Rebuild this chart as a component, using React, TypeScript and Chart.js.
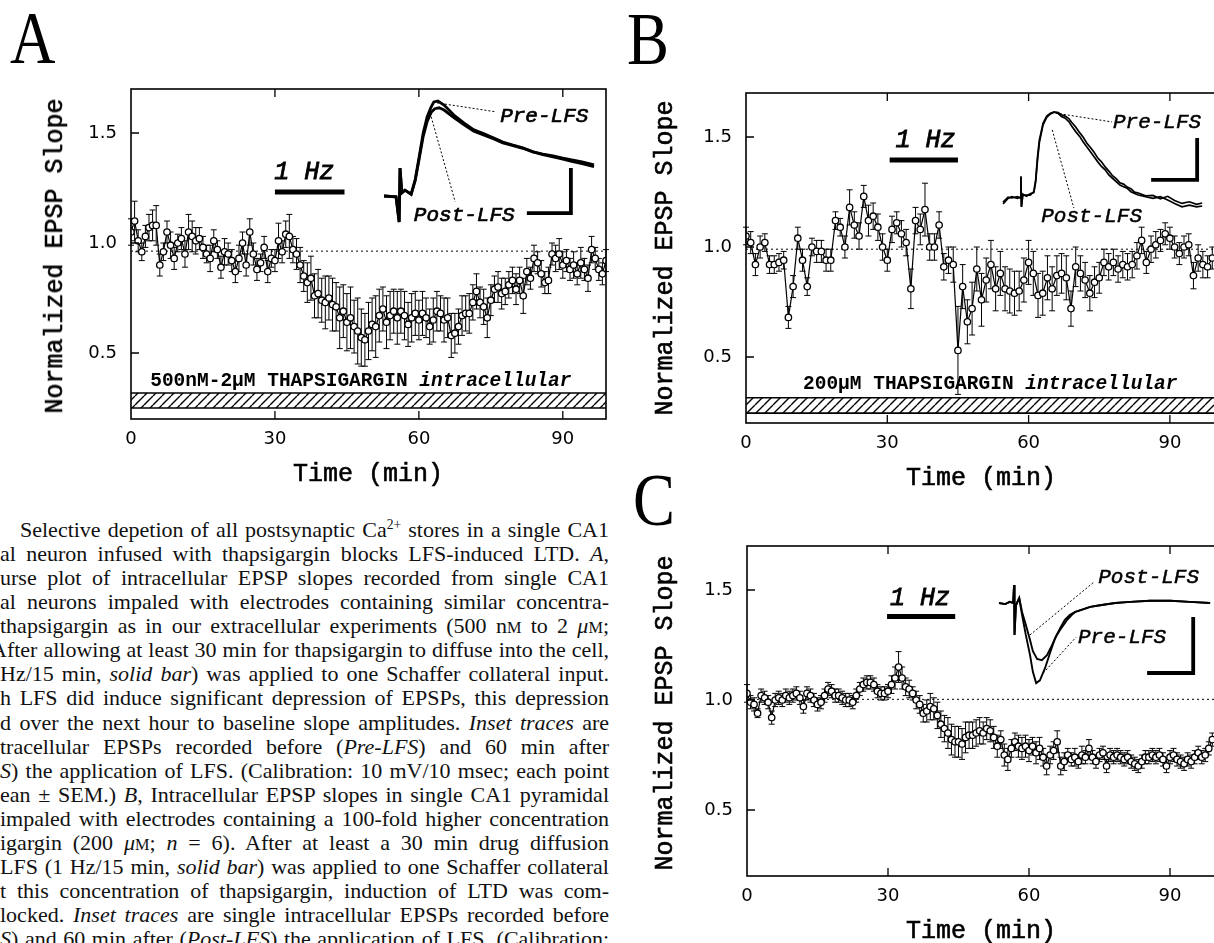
import React, { useEffect, useRef } from "react";
import { Chart, registerables } from "chart.js";

Chart.register(...registerables);

// ---------- axis ticks ----------
const X_TICKS = [0, 30, 60, 90];
const Y_TICKS = [0.5, 1.0, 1.5];

// ---------- Panel A: 500nM-2uM thapsigargin (sampling every 0.75 min) ----------
const A_STEP_MIN = 0.75;
const A_SLOPE = [
  1.05, 1.10, 1.01, 0.96, 1.03, 1.07, 1.08, 1.08, 0.90, 0.96,
  1.05, 0.99, 0.93, 1.00, 1.02, 0.95, 1.05, 1.03, 1.01, 1.02,
  0.98, 0.95, 0.93, 1.01, 0.97, 0.89, 0.96, 0.95, 0.92, 0.87,
  0.93, 1.00, 0.90, 1.05, 0.95, 0.88, 0.91, 0.98, 0.87, 0.93,
  0.92, 1.01, 0.96, 1.04, 1.03, 0.97, 0.95, 0.90, 0.85, 0.82,
  0.84, 0.76, 0.77, 0.74, 0.73, 0.75, 0.72, 0.71, 0.66, 0.69,
  0.64, 0.66, 0.62, 0.60, 0.57, 0.56, 0.60, 0.63, 0.62, 0.67,
  0.70, 0.64, 0.67, 0.69, 0.66, 0.69, 0.67, 0.63, 0.66, 0.68,
  0.65, 0.68, 0.66, 0.62, 0.65, 0.69, 0.68, 0.65, 0.66, 0.58,
  0.59, 0.62, 0.67, 0.68, 0.68, 0.73, 0.78, 0.73, 0.71, 0.66,
  0.74, 0.79, 0.80, 0.77, 0.78, 0.81, 0.83, 0.79, 0.83, 0.76,
  0.87, 0.84, 0.93, 0.91, 0.86, 0.82, 0.83, 0.95, 0.93, 0.95,
  0.90, 0.92, 0.88, 0.90, 0.86, 0.91, 0.88, 0.84, 0.97, 0.93,
  0.88, 0.86, 0.92,
];
const A_SEM = [
  0.06, 0.09, 0.05, 0.04, 0.05, 0.06, 0.07, 0.09, 0.05, 0.04,
  0.05, 0.06, 0.05, 0.04, 0.05, 0.06, 0.08, 0.07, 0.06, 0.05,
  0.05, 0.04, 0.06, 0.05, 0.04, 0.05, 0.06, 0.05, 0.05, 0.05,
  0.06, 0.05, 0.05, 0.06, 0.05, 0.05, 0.04, 0.05, 0.05, 0.04,
  0.05, 0.08, 0.05, 0.06, 0.10, 0.06, 0.07, 0.08, 0.07, 0.09,
  0.10, 0.10, 0.11, 0.10, 0.12, 0.10, 0.12, 0.11, 0.14, 0.12,
  0.13, 0.14, 0.12, 0.15, 0.13, 0.12, 0.13, 0.12, 0.14, 0.12,
  0.10, 0.12, 0.11, 0.10, 0.12, 0.10, 0.11, 0.10, 0.11, 0.10,
  0.09, 0.10, 0.09, 0.08, 0.10, 0.09, 0.08, 0.10, 0.09, 0.10,
  0.09, 0.08, 0.09, 0.08, 0.09, 0.08, 0.08, 0.07, 0.08, 0.09,
  0.07, 0.06, 0.07, 0.07, 0.06, 0.06, 0.06, 0.07, 0.06, 0.08,
  0.06, 0.05, 0.06, 0.05, 0.06, 0.05, 0.06, 0.05, 0.06, 0.07,
  0.06, 0.05, 0.05, 0.06, 0.05, 0.07, 0.05, 0.06, 0.06, 0.05,
  0.05, 0.05, 0.05,
];

// ---------- Panel B: 200uM thapsigargin (sampling every 1 min) ----------
const B_STEP_MIN = 1;
const B_SLOPE = [
  1.05, 1.02, 0.92, 1.00, 1.02, 0.92, 0.92, 0.93, 0.94, 0.68,
  0.82, 1.04, 0.94, 0.82, 1.00, 0.98, 0.98, 0.94, 0.94, 1.12,
  1.09, 1.00, 1.18, 1.10, 1.05, 1.23, 1.12, 1.14, 1.09, 1.00,
  0.94, 1.08, 1.11, 1.06, 1.02, 0.81, 1.12, 1.08, 1.17, 1.00,
  1.00, 1.10, 0.91, 0.94, 0.92, 0.53, 0.82, 0.66, 0.72, 0.90,
  0.76, 0.85, 0.92, 0.81, 0.88, 0.81, 0.80, 0.79, 0.80, 0.85,
  0.93, 0.88, 0.78, 0.79, 0.86, 0.81, 0.87, 0.88, 0.86, 0.72,
  0.91, 0.88, 0.85, 0.79, 0.84, 0.86, 0.93, 0.91, 0.93, 0.90,
  0.92, 0.91, 0.92, 0.96, 1.03, 0.93, 0.99, 1.01, 1.03, 1.06,
  1.04, 1.00, 0.97, 1.00, 1.01, 0.87, 0.95, 0.92, 0.91, 0.95,
];
const B_SEM = [
  0.04, 0.05, 0.05, 0.05, 0.04, 0.04, 0.04, 0.04, 0.04, 0.05,
  0.05, 0.05, 0.05, 0.04, 0.04, 0.05, 0.05, 0.05, 0.05, 0.04,
  0.04, 0.05, 0.08, 0.06, 0.06, 0.05, 0.07, 0.06, 0.06, 0.06,
  0.05, 0.06, 0.05, 0.06, 0.06, 0.09, 0.06, 0.07, 0.12, 0.06,
  0.06, 0.06, 0.06, 0.06, 0.08, 0.20, 0.10, 0.10, 0.12, 0.10,
  0.12, 0.10, 0.11, 0.10, 0.10, 0.10, 0.10, 0.10, 0.09, 0.10,
  0.10, 0.10, 0.10, 0.10, 0.10, 0.10, 0.09, 0.09, 0.10, 0.08,
  0.09, 0.08, 0.08, 0.08, 0.07, 0.07, 0.06, 0.06, 0.06, 0.06,
  0.06, 0.06, 0.06, 0.06, 0.06, 0.05, 0.06, 0.06, 0.05, 0.05,
  0.05, 0.05, 0.05, 0.05, 0.05, 0.06, 0.06, 0.06, 0.05, 0.05,
];

// ---------- Panel C: control (sampling every 0.75 min) ----------
const C_STEP_MIN = 0.75;
const C_SLOPE = [
  1.03, 0.99, 0.98, 0.94, 1.02, 1.01, 0.99, 0.92, 1.00, 1.01,
  1.00, 1.02, 1.01, 1.02, 1.03, 1.01, 0.97, 1.03, 1.02, 1.00,
  0.98, 0.99, 1.02, 1.05, 1.04, 1.02, 1.02, 1.01, 1.00, 1.00,
  0.99, 1.02, 1.05, 1.07, 1.08, 1.08, 1.07, 1.04, 1.03, 1.03,
  1.04, 1.07, 1.10, 1.15, 1.10, 1.06, 1.05, 1.03, 1.00, 0.98,
  0.94, 0.95, 0.97, 0.96, 0.93, 0.89, 0.87, 0.85, 0.82, 0.81,
  0.81, 0.80, 0.83, 0.84, 0.84, 0.85, 0.86, 0.85, 0.87, 0.86,
  0.83, 0.79, 0.82, 0.75, 0.73, 0.78, 0.81, 0.79, 0.78, 0.79,
  0.77, 0.79, 0.76, 0.78, 0.74, 0.70, 0.75, 0.77, 0.81, 0.70,
  0.72, 0.75, 0.73, 0.74, 0.72, 0.75, 0.74, 0.78, 0.74, 0.72,
  0.75, 0.76, 0.70, 0.75, 0.74, 0.75, 0.74, 0.73, 0.74, 0.72,
  0.71, 0.70, 0.72, 0.74, 0.74, 0.75, 0.74, 0.75, 0.73, 0.70,
  0.74, 0.75, 0.73, 0.72, 0.71, 0.73, 0.72, 0.74, 0.76, 0.74,
  0.75, 0.78, 0.82,
];
const C_SEM = [
  0.04, 0.03, 0.03, 0.02, 0.03, 0.03, 0.03, 0.03, 0.03, 0.03,
  0.03, 0.03, 0.03, 0.03, 0.03, 0.03, 0.03, 0.03, 0.03, 0.03,
  0.03, 0.03, 0.03, 0.03, 0.03, 0.03, 0.03, 0.03, 0.03, 0.03,
  0.03, 0.03, 0.03, 0.03, 0.03, 0.03, 0.03, 0.03, 0.03, 0.03,
  0.03, 0.04, 0.05, 0.07, 0.05, 0.04, 0.04, 0.03, 0.04, 0.04,
  0.04, 0.05, 0.06, 0.05, 0.06, 0.06, 0.06, 0.07, 0.07, 0.07,
  0.07, 0.07, 0.07, 0.06, 0.06, 0.06, 0.06, 0.05, 0.05, 0.05,
  0.05, 0.05, 0.04, 0.05, 0.05, 0.04, 0.04, 0.05, 0.05, 0.05,
  0.05, 0.04, 0.05, 0.05, 0.04, 0.04, 0.04, 0.04, 0.05, 0.04,
  0.04, 0.03, 0.03, 0.04, 0.03, 0.04, 0.03, 0.04, 0.03, 0.03,
  0.03, 0.03, 0.03, 0.03, 0.03, 0.03, 0.03, 0.03, 0.03, 0.03,
  0.03, 0.03, 0.03, 0.03, 0.03, 0.03, 0.03, 0.03, 0.03, 0.03,
  0.03, 0.03, 0.03, 0.03, 0.03, 0.03, 0.03, 0.03, 0.03, 0.03,
  0.03, 0.03, 0.03,
];

// ---------- inset traces: [msec, mV] ----------
type Pt = [number, number];
const INSET_A_PRE: Pt[] = [
  [0, 0], [2.7, -0.2], [3.4, -5.8], [3.6, 6.2], [4.0, 0.7], [4.7, 1.3], [6.1, 0.4], [7.0, 3.6],
  [7.9, 8.7], [8.8, 14.0], [9.7, 17.6], [10.6, 19.8], [11.2, 20.9], [12.1, 21.1], [13.5, 20.2],
  [15.7, 18.0], [18.0, 16.2], [20.2, 14.7], [22.5, 13.8], [24.7, 12.9], [26.7, 12.0], [29.0, 11.3],
  [31.2, 10.7], [33.5, 9.8], [35.7, 9.3], [38.0, 8.9], [40.2, 8.4], [42.2, 8.0], [44.5, 7.6], [47.2, 6.9],
];
const INSET_A_POST: Pt[] = [
  [0, 0], [2.7, -0.2], [3.4, -5.8], [3.6, 6.2], [4.0, 0.7], [4.7, 1.3], [6.1, 0.4], [7.0, 3.4],
  [7.9, 8.2], [8.8, 13.2], [9.7, 16.6], [10.6, 18.6], [11.4, 19.4], [12.4, 19.6], [13.5, 19.1],
  [15.7, 17.4], [18.0, 15.8], [20.2, 14.4], [22.5, 13.5], [24.7, 12.7], [26.7, 11.8], [29.0, 11.2],
  [31.2, 10.6], [33.5, 9.8], [35.7, 9.2], [38.0, 8.7], [40.2, 8.2], [42.2, 7.7], [44.5, 7.2], [47.2, 6.5],
];
const INSET_A_CAL: Pt[] = [[32.1, -3.8], [42.0, -3.8], [42.0, 6.2]];
const INSET_A_LEAD_PRE: Pt[] = [[11.9, 20.7], [25.2, 18.7]];
const INSET_A_LEAD_POST: Pt[] = [[10.6, 17.6], [16.0, -1.3]];

const INSET_B_PRE: Pt[] = [
  [0, -1.4], [1.1, -0.1], [1.9, 0.3], [3.1, -0.1], [3.7, 0.2], [3.9, 5.1], [4.0, -2.1], [4.3, 0.7],
  [5.1, 0.7], [5.9, 0.7], [6.7, 1.5], [7.1, 4.3], [7.5, 9.8], [7.9, 13.8], [8.7, 17.8], [9.5, 19.5],
  [10.3, 20.2], [11.1, 20.5], [11.9, 20.2], [12.7, 19.4], [13.5, 19.0], [14.3, 18.2], [15.0, 17.0],
  [15.8, 15.8], [16.7, 14.6], [17.4, 13.4], [18.2, 12.2], [19.0, 11.0], [19.8, 9.8], [20.6, 8.6],
  [21.4, 7.5], [22.2, 6.7], [23.0, 5.5], [23.8, 4.7], [24.6, 3.9], [25.4, 3.1], [26.2, 2.7],
  [27.0, 2.3], [27.8, 1.5], [28.6, 1.1], [29.4, 0.7], [31.0, 0.3], [32.6, -0.1], [34.2, 0.3],
  [35.8, -0.5], [37.3, -1.3], [38.9, -2.1], [40.5, -1.7], [42.1, -2.1], [43.3, -1.9],
];
const INSET_B_POST: Pt[] = [
  [0, -1.0], [1.1, 0.2], [1.9, 0.0], [3.1, 0.3], [3.7, 0.0], [3.9, 5.1], [4.0, -2.1], [4.3, 0.9],
  [5.1, 0.4], [5.9, 1.0], [6.7, 1.3], [7.1, 3.8], [7.5, 9.0], [7.9, 13.2], [8.7, 17.4], [9.5, 19.2],
  [10.3, 20.0], [11.1, 20.4], [11.9, 20.4], [12.7, 19.8], [13.5, 19.5], [14.3, 18.9], [15.0, 17.9],
  [15.8, 16.9], [16.7, 15.5], [17.4, 14.5], [18.2, 13.1], [19.0, 12.0], [19.8, 10.9], [20.6, 9.5],
  [21.4, 8.6], [22.2, 7.4], [23.0, 6.4], [23.8, 5.3], [24.6, 4.6], [25.4, 3.6], [26.2, 3.3],
  [27.0, 2.6], [27.8, 2.2], [28.6, 1.4], [29.4, 1.2], [31.0, 0.5], [32.6, 0.6], [34.2, -0.2],
  [35.8, 0.4], [37.3, -0.6], [38.9, -1.3], [40.5, -0.9], [42.1, -1.5], [43.3, -1.2],
];
const INSET_B_CAL: Pt[] = [[32.2, 4.3], [42.2, 4.3], [42.2, 14.3]];
const INSET_B_LEAD_PRE: Pt[] = [[11.5, 20.2], [23.7, 18.1]];
const INSET_B_LEAD_POST: Pt[] = [[10.7, 16.2], [15.4, -2.4]];

const INSET_C_PRE: Pt[] = [
  [0, 0], [1.3, -0.2], [2.3, 0.2], [3.0, 0], [3.2, 3.2], [3.3, -5.7], [3.6, -0.4], [4.3, 0.9],
  [4.9, -2.1], [5.7, -5.7], [6.6, -9.3], [7.2, -12.3], [7.9, -14.3], [8.7, -13.8], [9.8, -11.6],
  [10.9, -8.8], [11.9, -6.3], [13.0, -4.5], [14.0, -3.0], [15.1, -2.1], [16.2, -1.6], [17.2, -1.3],
  [19.4, -0.7], [21.5, -0.4], [24.7, 0], [27.9, 0.2], [32.1, 0.4], [36.4, 0.4], [40.6, 0.2], [44.9, 0],
];
const INSET_C_POST: Pt[] = [
  [0, 0], [1.3, -0.2], [2.3, 0.2], [3.0, 0], [3.2, 3.2], [3.3, -5.7], [3.6, -0.4], [4.3, 0.9],
  [4.9, -1.6], [5.7, -3.9], [6.6, -6.6], [7.2, -8.6], [8.1, -10.0], [9.1, -10.2], [10.2, -9.3],
  [11.3, -7.5], [12.3, -5.7], [13.4, -4.3], [14.5, -3.0], [15.5, -2.1], [16.2, -1.6], [17.2, -1.3],
  [19.4, -0.7], [21.5, -0.4], [24.7, 0], [27.9, 0.2], [32.1, 0.4], [36.4, 0.4], [40.6, 0.2], [44.9, 0],
];
const INSET_C_CAL: Pt[] = [[31.5, -12.5], [41.3, -12.5], [41.3, -2.5]];
const INSET_C_LEAD_POST: Pt[] = [[6.6, -5.7], [20.2, 3.75]];
const INSET_C_LEAD_PRE: Pt[] = [[9.4, -12.5], [16.4, -6.1]];

// ---------- helpers ----------
const MONO = '"Liberation Mono", "DejaVu Sans Mono", monospace';
const toXY = (arr: Pt[]) => arr.map(([x, y]) => ({ x, y }));
const seriesXY = (vals: number[], step: number) => vals.map((y, i) => ({ x: i * step, y }));

interface TextItem {
  x: number;
  y: number;
  align: "left" | "center";
  stroke?: number;
  parts: { text: string; font: string }[];
}

function textPlugin(items: TextItem[]) {
  return {
    id: "texts",
    afterDatasetsDraw(chart: any) {
      const { ctx } = chart;
      const xs = chart.scales.x;
      const ys = chart.scales.y;
      ctx.save();
      ctx.fillStyle = "#000";
      ctx.strokeStyle = "#000";
      ctx.textBaseline = "middle";
      ctx.textAlign = "left";
      items.forEach((it) => {
        let total = 0;
        it.parts.forEach((p) => {
          ctx.font = p.font;
          total += ctx.measureText(p.text).width;
        });
        let x = xs.getPixelForValue(it.x);
        const y = ys.getPixelForValue(it.y);
        if (it.align === "center") x -= total / 2;
        it.parts.forEach((p) => {
          ctx.font = p.font;
          ctx.fillText(p.text, x, y);
          if (it.stroke) {
            ctx.lineWidth = it.stroke;
            ctx.strokeText(p.text, x, y);
          }
          x += ctx.measureText(p.text).width;
        });
      });
      ctx.restore();
    },
  };
}

const errorBarPlugin = {
  id: "errorBars",
  beforeDatasetDraw(chart: any, args: any) {
    if (args.index !== 0) return;
    const ds = chart.data.datasets[0];
    const sem: number[] = ds.sem || [];
    const { ctx } = chart;
    const xs = chart.scales.x;
    const ys = chart.scales.y;
    ctx.save();
    ctx.strokeStyle = "#000";
    ctx.lineWidth = 1;
    ds.data.forEach((p: any, i: number) => {
      const e = sem[i];
      if (!e) return;
      const x = xs.getPixelForValue(p.x);
      const y1 = ys.getPixelForValue(p.y + e);
      const y2 = ys.getPixelForValue(p.y - e);
      ctx.beginPath();
      ctx.moveTo(x, y1);
      ctx.lineTo(x, y2);
      ctx.moveTo(x - 3, y1);
      ctx.lineTo(x + 3, y1);
      ctx.moveTo(x - 3, y2);
      ctx.lineTo(x + 3, y2);
      ctx.stroke();
    });
    ctx.restore();
  },
};

const framePlugin = {
  id: "frame",
  afterDraw(chart: any) {
    const { ctx, chartArea } = chart;
    const { left, right, top, bottom } = chartArea;
    const xs = chart.scales.x;
    const ys = chart.scales.y;
    ctx.save();
    ctx.strokeStyle = "#000";
    ctx.lineWidth = 1.6;
    ctx.strokeRect(left, top, right - left, bottom - top);
    ctx.lineWidth = 1.3;
    ctx.beginPath();
    Y_TICKS.forEach((v) => {
      const y = ys.getPixelForValue(v);
      ctx.moveTo(left, y);
      ctx.lineTo(left + 8, y);
    });
    X_TICKS.forEach((v) => {
      if (v === 0) return;
      const x = xs.getPixelForValue(v);
      ctx.moveTo(x, bottom);
      ctx.lineTo(x, bottom - 8);
      ctx.moveTo(x, top);
      ctx.lineTo(x, top + 8);
    });
    ctx.stroke();
    ctx.restore();
  },
};

function makeHatch(ctx: CanvasRenderingContext2D) {
  const w = 9;
  const h = 9;
  const c = document.createElement("canvas");
  c.width = w;
  c.height = h;
  const g = c.getContext("2d")!;
  g.strokeStyle = "#000";
  g.lineWidth = 1.4;
  g.beginPath();
  [-w, 0, w].forEach((o) => {
    g.moveTo(o, h);
    g.lineTo(o + w, 0);
  });
  g.stroke();
  return ctx.createPattern(c, "repeat");
}

interface PanelSpec {
  values: number[];
  sem: number[];
  step: number;
  xMax: number;
  base: number;
  stim: [number, number, number];
  hatch?: [number, number];
  texts: TextItem[];
  pad: { left: number; top: number; right: number; bottom: number };
}

function mainConfig(canvas: HTMLCanvasElement, s: PanelSpec): any {
  const datasets: any[] = [
    {
      label: "EPSP slope",
      data: seriesXY(s.values, s.step),
      sem: s.sem,
      borderColor: "#000",
      borderWidth: 1.2,
      pointRadius: 3.2,
      pointBorderWidth: 1.3,
      pointBackgroundColor: "#fff",
      pointBorderColor: "#000",
      tension: 0,
      fill: false,
    },
    {
      label: "1 Hz",
      data: [
        { x: s.stim[0], y: s.stim[2] },
        { x: s.stim[1], y: s.stim[2] },
      ],
      borderColor: "#000",
      borderWidth: 5,
      borderCapStyle: "butt",
      pointRadius: 0,
      fill: false,
    },
    {
      label: "baseline",
      data: [
        { x: 0, y: s.base },
        { x: s.xMax, y: s.base },
      ],
      borderColor: "#000",
      borderWidth: 1,
      borderDash: [2, 3],
      pointRadius: 0,
      fill: false,
    },
  ];
  if (s.hatch) {
    const ctx = canvas.getContext("2d")!;
    datasets.push(
      {
        label: "drug top",
        data: [
          { x: 0, y: s.hatch[1] },
          { x: s.xMax, y: s.hatch[1] },
        ],
        borderColor: "#000",
        borderWidth: 1.6,
        pointRadius: 0,
        fill: false,
      },
      {
        label: "drug bottom",
        data: [
          { x: 0, y: s.hatch[0] },
          { x: s.xMax, y: s.hatch[0] },
        ],
        borderColor: "#000",
        borderWidth: 1.6,
        pointRadius: 0,
        fill: "-1",
        backgroundColor: makeHatch(ctx),
      }
    );
  }
  const tickFont = { family: '"DejaVu Sans", sans-serif', size: 18 };
  return {
    type: "line",
    data: { datasets },
    options: {
      animation: false,
      responsive: false,
      maintainAspectRatio: false,
      devicePixelRatio: 1,
      layout: { padding: s.pad, autoPadding: false },
      plugins: {
        legend: { display: false },
        tooltip: { enabled: false },
        filler: { propagate: false },
      },
      scales: {
        x: {
          type: "linear",
          min: 0,
          max: s.xMax,
          grid: { display: false, drawTicks: false, tickLength: 0 },
          border: { display: false },
          ticks: {
            color: "#000",
            font: tickFont,
            padding: 10,
            autoSkip: false,
            maxRotation: 0,
            callback: (v: any) => String(v),
          },
          afterBuildTicks: (sc: any) => {
            sc.ticks = X_TICKS.map((value) => ({ value }));
          },
          afterFit: (sc: any) => {
            sc.height = 40;
          },
        },
        y: {
          type: "linear",
          min: 0.2,
          max: 1.7,
          grid: { display: false, drawTicks: false, tickLength: 0 },
          border: { display: false },
          ticks: {
            color: "#000",
            font: tickFont,
            padding: 14,
            autoSkip: false,
            callback: (v: any) => Number(v).toFixed(1),
          },
          afterBuildTicks: (sc: any) => {
            sc.ticks = Y_TICKS.map((value) => ({ value }));
          },
          afterFit: (sc: any) => {
            sc.width = 50;
          },
        },
      },
    },
    plugins: [errorBarPlugin, textPlugin(s.texts), framePlugin],
  };
}

interface InsetSpec {
  pre: Pt[];
  post: Pt[];
  cal: Pt[];
  leadPre: Pt[];
  leadPost: Pt[];
  xRange: [number, number];
  yRange: [number, number];
  traceWidth: number;
  texts: TextItem[];
}

function insetConfig(s: InsetSpec): any {
  const line = (data: Pt[], width: number, dash?: number[]) => ({
    data: toXY(data),
    borderColor: "#000",
    borderWidth: width,
    borderDash: dash || [],
    pointRadius: 0,
    tension: 0,
    fill: false,
    borderJoinStyle: "miter",
    borderCapStyle: "butt",
  });
  return {
    type: "line",
    data: {
      datasets: [
        line(s.pre, s.traceWidth),
        line(s.post, s.traceWidth),
        line(s.cal, 3.8),
        line(s.leadPre, 1, [2, 2]),
        line(s.leadPost, 1, [2, 2]),
      ],
    },
    options: {
      animation: false,
      responsive: false,
      maintainAspectRatio: false,
      devicePixelRatio: 1,
      layout: { padding: 0, autoPadding: false },
      plugins: { legend: { display: false }, tooltip: { enabled: false } },
      scales: {
        x: { type: "linear", display: false, min: s.xRange[0], max: s.xRange[1] },
        y: { type: "linear", display: false, min: s.yRange[0], max: s.yRange[1] },
      },
    },
    plugins: [textPlugin(s.texts)],
  };
}

const HZ_FONT = `italic 25px ${MONO}`;
const DRUG_FONT = `bold 19.5px ${MONO}`;
const DRUG_IT = `italic bold 19.5px ${MONO}`;
const LFS_FONT = `italic 21px ${MONO}`;

const PANEL_A: PanelSpec = {
  values: A_SLOPE,
  sem: A_SEM,
  step: A_STEP_MIN,
  xMax: 99,
  base: 0.963,
  stim: [30, 44.5, 1.232],
  hatch: [0.25, 0.318],
  texts: [
    { x: 36.1, y: 1.323, align: "center", stroke: 0.8, parts: [{ text: "1 Hz", font: HZ_FONT }] },
    {
      x: 4.0,
      y: 0.373,
      align: "left",
      parts: [
        { text: "500nM-2\u03BCM THAPSIGARGIN ", font: DRUG_FONT },
        { text: "intracellular", font: DRUG_IT },
      ],
    },
  ],
  pad: { left: 81, top: 89, right: 34, bottom: 41 },
};

const PANEL_B: PanelSpec = {
  values: B_SLOPE,
  sem: B_SEM,
  step: B_STEP_MIN,
  xMax: 100,
  base: 0.99,
  stim: [30.5, 45, 1.395],
  hatch: [0.245, 0.315],
  texts: [
    { x: 38.1, y: 1.486, align: "center", stroke: 0.8, parts: [{ text: "1 Hz", font: HZ_FONT }] },
    {
      x: 12.1,
      y: 0.377,
      align: "left",
      parts: [
        { text: "200\u03BCM THAPSIGARGIN ", font: DRUG_FONT },
        { text: "intracellular", font: DRUG_IT },
      ],
    },
  ],
  pad: { left: 76, top: 93, right: 23, bottom: 37 },
};

const PANEL_C: PanelSpec = {
  values: C_SLOPE,
  sem: C_SEM,
  step: C_STEP_MIN,
  xMax: 100,
  base: 1.003,
  stim: [29.8, 44.3, 1.38],
  texts: [{ x: 36.8, y: 1.464, align: "center", stroke: 0.8, parts: [{ text: "1 Hz", font: HZ_FONT }] }],
  pad: { left: 77, top: 76, right: 23, bottom: 27 },
};

const INSET_A: InsetSpec = {
  pre: INSET_A_PRE,
  post: INSET_A_POST,
  cal: INSET_A_CAL,
  leadPre: INSET_A_LEAD_PRE,
  leadPost: INSET_A_LEAD_POST,
  xRange: [-3.15, 50.79],
  yRange: [-7.56, 24.67],
  traceWidth: 2.8,
  texts: [
    { x: 26.1, y: 17.6, align: "left", stroke: 0.7, parts: [{ text: "Pre-LFS", font: LFS_FONT }] },
    { x: 6.7, y: -4.4, align: "left", stroke: 0.7, parts: [{ text: "Post-LFS", font: LFS_FONT }] },
  ],
};

const INSET_B: InsetSpec = {
  pre: INSET_B_PRE,
  post: INSET_B_POST,
  cal: INSET_B_CAL,
  leadPre: INSET_B_LEAD_PRE,
  leadPost: INSET_B_LEAD_POST,
  xRange: [-2.83, 47.17],
  yRange: [-7.62, 26.9],
  traceWidth: 1.7,
  texts: [
    { x: 23.9, y: 18.0, align: "left", stroke: 0.5, parts: [{ text: "Pre-LFS", font: LFS_FONT }] },
    { x: 8.3, y: -4.3, align: "left", stroke: 0.5, parts: [{ text: "Post-LFS", font: LFS_FONT }] },
  ],
};

const INSET_C: InsetSpec = {
  pre: INSET_C_PRE,
  post: INSET_C_POST,
  cal: INSET_C_CAL,
  leadPre: INSET_C_LEAD_PRE,
  leadPost: INSET_C_LEAD_POST,
  xRange: [-2.98, 47.0],
  yRange: [-17.32, 7.68],
  traceWidth: 1.9,
  texts: [
    { x: 21.1, y: 4.5, align: "left", stroke: 0.5, parts: [{ text: "Post-LFS", font: LFS_FONT }] },
    { x: 16.8, y: -6.1, align: "left", stroke: 0.5, parts: [{ text: "Pre-LFS", font: LFS_FONT }] },
  ],
};

// ---------- HTML text pieces ----------
const abs = (s: React.CSSProperties): React.CSSProperties => ({ position: "absolute", ...s });

const titleStyle: React.CSSProperties = {
  whiteSpace: "nowrap",
  fontFamily: MONO,
  fontSize: 25,
  lineHeight: "28px",
  color: "#000",
  WebkitTextStroke: "0.6px #000",
};

function YTitle({ cx, cy }: { cx: number; cy: number }) {
  return (
    <div style={abs({ left: cx, top: cy, transform: "translate(-50%, -50%) rotate(-90deg)", ...titleStyle })}>
      Normalized EPSP Slope
    </div>
  );
}

function XTitle({ cx, cy }: { cx: number; cy: number }) {
  return (
    <div style={abs({ left: cx, top: cy, transform: "translate(-50%, -50%)", ...titleStyle })}>
      Time (min)
    </div>
  );
}

function Letter({ ch, left, top }: { ch: string; left: number; top: number }) {
  return (
    <div
      style={abs({
        left,
        top,
        fontFamily: '"Liberation Serif", serif',
        fontSize: 74,
        lineHeight: "74px",
        transform: "scaleX(0.85)",
        transformOrigin: "left top",
        color: "#000",
      })}
    >
      {ch}
    </div>
  );
}

function Line({ top, left = 0, width = 609, children }: any) {
  return (
    <div
      style={abs({
        top,
        left,
        width,
        height: 24,
        lineHeight: "24px",
        fontFamily: '"Liberation Serif", serif',
        fontSize: 22,
        textAlign: "justify",
        textAlignLast: "justify",
        whiteSpace: "nowrap",
        color: "#111",
      })}
    >
      {children}
    </div>
  );
}

const sc = (t: string) => <span style={{ fontSize: "0.74em" }}>{t}</span>;

export default function App() {
  const aRef = useRef<HTMLCanvasElement>(null);
  const bRef = useRef<HTMLCanvasElement>(null);
  const cRef = useRef<HTMLCanvasElement>(null);
  const aiRef = useRef<HTMLCanvasElement>(null);
  const biRef = useRef<HTMLCanvasElement>(null);
  const ciRef = useRef<HTMLCanvasElement>(null);

  useEffect(() => {
    const charts: Chart[] = [];
    if (aRef.current) charts.push(new Chart(aRef.current, mainConfig(aRef.current, PANEL_A)));
    if (bRef.current) charts.push(new Chart(bRef.current, mainConfig(bRef.current, PANEL_B)));
    if (cRef.current) charts.push(new Chart(cRef.current, mainConfig(cRef.current, PANEL_C)));
    if (aiRef.current) charts.push(new Chart(aiRef.current, insetConfig(INSET_A)));
    if (biRef.current) charts.push(new Chart(biRef.current, insetConfig(INSET_B)));
    if (ciRef.current) charts.push(new Chart(ciRef.current, insetConfig(INSET_C)));
    return () => charts.forEach((c) => c.destroy());
  }, []);

  return (
    <div
      style={abs({
        left: 0,
        top: 0,
        width: 1214,
        height: 943,
        overflow: "hidden",
        background: "#fff",
      })}
    >
      <Letter ch="A" left={10} top={1} />
      <Letter ch="B" left={627} top={2} />
      <Letter ch="C" left={633} top={463} />

      <canvas ref={aRef} width={640} height={500} style={abs({ left: 0, top: 0 })} />
      <canvas ref={bRef} width={620} height={500} style={abs({ left: 620, top: 0 })} />
      <canvas ref={cRef} width={620} height={473} style={abs({ left: 620, top: 470 })} />
      <canvas ref={aiRef} width={240} height={145} style={abs({ left: 370, top: 85 })} />
      <canvas ref={biRef} width={230} height={145} style={abs({ left: 990, top: 85 })} />
      <canvas ref={ciRef} width={235} height={140} style={abs({ left: 985, top: 560 })} />

      <YTitle cx={56} cy={256} />
      <YTitle cx={666} cy={258} />
      <YTitle cx={666} cy={713} />
      <XTitle cx={368} cy={475} />
      <XTitle cx={981} cy={479} />
      <XTitle cx={981} cy={932} />

      <Line top={518} left={20} width={589}>
        Selective depetion of all postsynaptic Ca<sup style={{ fontSize: "0.62em", lineHeight: 0 }}>2+</sup> stores in a single CA1
      </Line>
      <Line top={542}>
        al neuron infused with thapsigargin blocks LFS-induced LTD. <i>A</i>,
      </Line>
      <Line top={566}>urse plot of intracellular EPSP slopes recorded from single CA1</Line>
      <Line top={590}>al neurons impaled with electrodes containing similar concentra-</Line>
      <Line top={614}>
        thapsigargin as in our extracellular experiments (500 n{sc("M")} to 2 <i>μ</i>
        {sc("M")};
      </Line>
      <Line top={638} left={-9} width={618}>
        After allowing at least 30 min for thapsigargin to diffuse into the cell,
      </Line>
      <Line top={662}>
        Hz/15 min, <i>solid bar</i>) was applied to one Schaffer collateral input.
      </Line>
      <Line top={686}>h LFS did induce significant depression of EPSPs, this depression</Line>
      <Line top={711}>
        d over the next hour to baseline slope amplitudes. <i>Inset traces</i> are
      </Line>
      <Line top={735}>
        tracellular EPSPs recorded before (<i>Pre-LFS</i>) and 60 min after
      </Line>
      <Line top={759}>
        <i>S</i>) the application of LFS. (Calibration: 10 mV/10 msec; each point
      </Line>
      <Line top={783}>
        ean ± SEM.) <i>B</i>, Intracellular EPSP slopes in single CA1 pyramidal
      </Line>
      <Line top={807}>impaled with electrodes containing a 100-fold higher concentration</Line>
      <Line top={831}>
        igargin (200 <i>μ</i>
        {sc("M")}; <i>n</i> = 6). After at least a 30 min drug diffusion
      </Line>
      <Line top={855}>
        LFS (1 Hz/15 min, <i>solid bar</i>) was applied to one Schaffer collateral
      </Line>
      <Line top={879}>t this concentration of thapsigargin, induction of LTD was com-</Line>
      <Line top={903}>
        locked. <i>Inset traces</i> are single intracellular EPSPs recorded before
      </Line>
      <Line top={927}>
        <i>S</i>) and 60 min after (<i>Post-LFS</i>) the application of LFS. (Calibration:
      </Line>
    </div>
  );
}
